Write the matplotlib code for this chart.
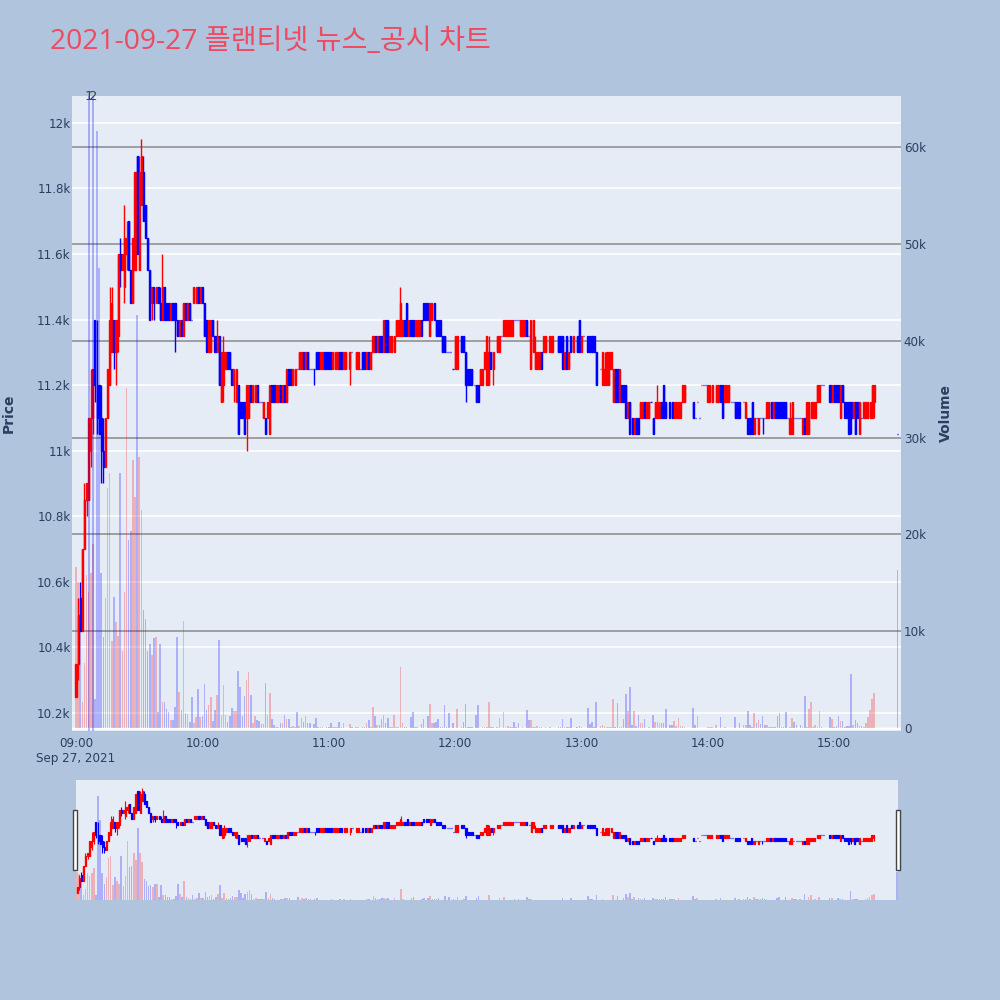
import numpy as np
import matplotlib
matplotlib.use('Agg')
import matplotlib.pyplot as plt
from matplotlib.patches import Rectangle
from matplotlib.ticker import FuncFormatter
from matplotlib.transforms import blended_transform_factory

title = '2021-09-27 플랜티넷 뉴스_공시 차트'

# 1분봉 (index = 09:00 부터 몇 분), 380~389 는 거래 없음, 390 = 15:30 종가 동시호가
N = None
opens = [
    10250, 10350, 10550, 10450, 10700, 10850, 10850, 11000, 11100, 11400,
    11200, 11200, 11100, 11000, 10950, 11100, 11200, 11300, 11400, 11300,
    11350, 11600, 11550, 11500, 11600, 11700, 11550, 11450, 11550, 11900,
    11550, 11750, 11850, 11750, 11650, 11550, 11450, 11500, 11450, 11500,
    11450, 11400, 11500, 11450, 11450, 11400, 11450, 11450, 11400, 11350,
    11400, 11350, 11450, 11400, 11450, 11400, 11450, 11450, 11500, 11450,
    11500, 11450, 11400, 11300, 11300, 11400, 11350, 11300, 11350, 11150,
    11200, 11250, 11300, 11300, 11250, 11200, 11150, 11200, 11150, 11150,
    11150, 11100, 11100, 11200, 11150, 11150, 11200, 11150, 11150, 11100,
    11100, 11100, 11050, 11200, 11200, 11150, 11150, 11200, 11150, 11200,
    11150, 11250, 11250, 11200, 11200, 11250, 11250, 11250, 11300, 11250,
    11300, 11250, 11250, 11250, 11300, 11300, 11250, 11250, 11300, 11300,
    11300, 11300, 11250, 11250, 11250, 11300, 11300, 11250, 11250, N,
    11250, 11300, N, 11250, 11250, 11250, 11300, 11300, 11250, 11300,
    11250, 11300, 11350, 11300, 11350, 11350, 11300, 11400, 11400, 11300,
    11300, 11300, 11350, 11350, 11350, 11350, 11400, 11450, 11350, 11400,
    11400, 11350, 11350, 11350, 11400, 11450, 11450, 11450, 11350, 11400,
    11450, 11400, 11400, 11400, 11350, 11350, 11300, 11300, 11300, 11250,
    11250, 11250, N, 11350, 11350, 11300, 11250, 11250, 11250, 11200,
    11200, 11200, 11200, 11200, 11250, 11200, 11200, 11300, 11250, N,
    11300, 11300, 11350, 11350, 11350, 11350, 11350, 11350, 11400, 11400,
    11400, 11350, 11350, 11350, 11400, 11350, 11250, 11300, 11250, 11250,
    11250, 11300, 11300, 11300, N, 11300, 11300, N, N, 11350,
    11350, 11350, 11250, 11350, 11250, 11350, 11300, N, 11350, 11400,
    11300, 11350, N, 11350, 11350, 11350, 11350, 11300, N, 11250,
    11200, 11200, 11200, 11200, 11250, 11150, 11250, 11250, 11150, 11200,
    11200, 11200, 11100, 11150, 11100, 11050, 11100, 11100, 11100, 11100,
    11150, 11100, 11100, 11150, 11100, 11100, 11100, 11100, 11150, 11200,
    11150, N, 11150, 11150, 11100, 11100, 11100, 11100, 11150, 11150,
    N, N, N, 11150, 11100, 11150, 11100, 11200, 11200, 11200,
    11150, 11150, 11150, N, 11150, 11150, 11200, 11200, 11150, 11150,
    11150, 11150, 11150, 11150, 11150, 11150, N, 11150, 11100, 11100,
    11100, 11150, 11050, 11100, 11050, 11100, 11100, 11100, 11100, 11100,
    11150, 11100, 11150, 11150, 11150, 11150, 11150, 11150, 11100, 11050,
    11050, 11100, 11100, 11100, 11100, 11050, 11100, 11050, 11050, 11100,
    11100, 11100, 11150, 11150, 11200, 11200, N, N, 11200, 11150,
    11200, 11200, 11200, 11100, 11200, 11150, 11150, 11150, 11150, 11100,
    11150, 11150, 11050, 11100, 11100, 11100, 11100, 11100, 11100, 11150,
    N, N, N, N, N, N, N, N, N, N, 11050,
]
highs = [
    10350, 10550, 10600, 10700, 10900, 10900, 11100, 11250, 11250, 11400,
    11400, 11200, 11200, 11100, 11100, 11250, 11500, 11500, 11400, 11400,
    11600, 11650, 11600, 11750, 11700, 11700, 11550, 11650, 11850, 11900,
    11900, 11950, 11900, 11750, 11650, 11550, 11500, 11500, 11500, 11500,
    11500, 11600, 11500, 11450, 11450, 11450, 11450, 11450, 11400, 11400,
    11400, 11450, 11450, 11450, 11450, 11400, 11500, 11500, 11500, 11500,
    11500, 11450, 11400, 11400, 11400, 11400, 11350, 11400, 11350, 11300,
    11350, 11300, 11300, 11300, 11250, 11250, 11250, 11200, 11150, 11150,
    11150, 11200, 11200, 11200, 11200, 11200, 11200, 11150, 11150, 11150,
    11100, 11150, 11200, 11200, 11200, 11200, 11200, 11200, 11200, 11200,
    11250, 11250, 11250, 11250, 11250, 11250, 11300, 11300, 11300, 11300,
    11300, 11250, 11250, 11250, 11300, 11300, 11300, 11300, 11300, 11300,
    11300, 11300, 11300, 11300, 11300, 11300, 11300, 11300, 11300, N,
    11300, 11300, N, 11300, 11300, 11250, 11300, 11300, 11300, 11300,
    11300, 11350, 11350, 11350, 11350, 11350, 11400, 11400, 11400, 11350,
    11350, 11350, 11400, 11400, 11500, 11400, 11400, 11450, 11400, 11400,
    11400, 11400, 11400, 11400, 11400, 11450, 11450, 11450, 11450, 11450,
    11450, 11400, 11400, 11400, 11350, 11350, 11300, 11300, 11300, 11250,
    11350, 11350, N, 11350, 11350, 11300, 11250, 11250, 11250, 11200,
    11200, 11200, 11250, 11250, 11300, 11350, 11350, 11300, 11300, N,
    11350, 11350, 11350, 11400, 11400, 11400, 11400, 11400, 11400, 11400,
    11400, 11400, 11400, 11400, 11400, 11350, 11400, 11400, 11350, 11300,
    11300, 11300, 11350, 11350, N, 11350, 11350, N, N, 11350,
    11350, 11350, 11300, 11350, 11300, 11350, 11350, N, 11350, 11400,
    11350, 11350, N, 11350, 11350, 11350, 11350, 11300, N, 11250,
    11300, 11300, 11300, 11300, 11300, 11250, 11250, 11250, 11250, 11200,
    11200, 11200, 11150, 11150, 11100, 11100, 11100, 11100, 11150, 11150,
    11150, 11150, 11150, 11150, 11100, 11150, 11200, 11150, 11150, 11200,
    11150, N, 11150, 11150, 11150, 11150, 11150, 11150, 11200, 11200,
    N, N, N, 11150, 11100, 11150, 11100, 11200, 11200, 11200,
    11200, 11200, 11200, N, 11200, 11200, 11200, 11200, 11200, 11200,
    11200, 11150, 11150, 11150, 11150, 11150, N, 11150, 11150, 11100,
    11100, 11150, 11100, 11100, 11100, 11100, 11100, 11100, 11150, 11150,
    11150, 11150, 11150, 11150, 11150, 11150, 11150, 11150, 11100, 11150,
    11150, 11100, 11100, 11100, 11100, 11100, 11100, 11150, 11150, 11150,
    11150, 11150, 11200, 11200, 11200, 11200, N, N, 11200, 11200,
    11200, 11200, 11200, 11200, 11200, 11150, 11150, 11150, 11150, 11150,
    11150, 11150, 11150, 11100, 11150, 11150, 11150, 11150, 11200, 11200,
    N, N, N, N, N, N, N, N, N, N, 11050,
]
lows = [
    10250, 10300, 10450, 10450, 10700, 10800, 10850, 10950, 11050, 11150,
    11050, 11050, 10900, 10900, 10950, 11100, 11200, 11300, 11250, 11200,
    11300, 11500, 11550, 11450, 11550, 11550, 11450, 11450, 11550, 11600,
    11550, 11750, 11700, 11650, 11550, 11400, 11400, 11400, 11450, 11450,
    11400, 11400, 11400, 11400, 11400, 11400, 11400, 11300, 11350, 11350,
    11350, 11350, 11400, 11400, 11400, 11400, 11450, 11450, 11450, 11450,
    11450, 11350, 11300, 11300, 11300, 11350, 11300, 11300, 11200, 11150,
    11150, 11250, 11250, 11250, 11200, 11150, 11150, 11050, 11100, 11100,
    11050, 11000, 11100, 11150, 11150, 11150, 11150, 11150, 11150, 11100,
    11050, 11100, 11050, 11150, 11150, 11150, 11150, 11150, 11150, 11150,
    11150, 11200, 11200, 11200, 11200, 11250, 11250, 11250, 11250, 11250,
    11250, 11250, 11250, 11200, 11250, 11250, 11250, 11250, 11250, 11250,
    11250, 11250, 11250, 11250, 11250, 11250, 11250, 11250, 11250, N,
    11200, 11300, N, 11250, 11250, 11250, 11250, 11250, 11250, 11250,
    11250, 11300, 11300, 11300, 11300, 11300, 11300, 11300, 11300, 11300,
    11300, 11300, 11350, 11350, 11350, 11350, 11350, 11350, 11350, 11350,
    11350, 11350, 11350, 11350, 11350, 11400, 11400, 11400, 11350, 11400,
    11400, 11350, 11350, 11350, 11300, 11300, 11300, 11300, 11300, 11250,
    11250, 11250, N, 11300, 11300, 11150, 11200, 11200, 11200, 11200,
    11150, 11150, 11200, 11200, 11250, 11200, 11200, 11250, 11200, N,
    11300, 11300, 11350, 11350, 11350, 11350, 11350, 11350, 11400, 11400,
    11400, 11350, 11350, 11350, 11350, 11350, 11250, 11300, 11250, 11250,
    11250, 11250, 11300, 11300, N, 11300, 11300, N, N, 11300,
    11300, 11250, 11250, 11250, 11250, 11300, 11300, N, 11300, 11300,
    11300, 11350, N, 11300, 11300, 11300, 11300, 11200, N, 11250,
    11200, 11200, 11200, 11200, 11250, 11150, 11150, 11150, 11150, 11150,
    11150, 11100, 11100, 11050, 11050, 11050, 11050, 11050, 11100, 11100,
    11100, 11100, 11100, 11150, 11050, 11100, 11100, 11100, 11100, 11100,
    11100, N, 11100, 11100, 11100, 11100, 11100, 11100, 11150, 11150,
    N, N, N, 11100, 11100, 11150, 11100, 11200, 11200, 11200,
    11150, 11150, 11150, N, 11150, 11150, 11150, 11100, 11150, 11150,
    11150, 11150, 11150, 11100, 11100, 11100, N, 11150, 11100, 11050,
    11050, 11050, 11050, 11100, 11050, 11100, 11050, 11100, 11100, 11100,
    11100, 11100, 11100, 11100, 11100, 11100, 11100, 11100, 11100, 11050,
    11050, 11100, 11100, 11100, 11100, 11050, 11050, 11050, 11050, 11100,
    11100, 11100, 11150, 11150, 11200, 11200, N, N, 11150, 11150,
    11150, 11150, 11150, 11100, 11150, 11100, 11100, 11050, 11050, 11100,
    11050, 11100, 11050, 11100, 11100, 11100, 11100, 11100, 11100, 11100,
    N, N, N, N, N, N, N, N, N, N, 11050,
]
closes = [
    10350, 10500, 10450, 10700, 10850, 10900, 11100, 11100, 11250, 11200,
    11100, 11050, 11000, 10950, 11100, 11250, 11400, 11450, 11300, 11400,
    11600, 11550, 11600, 11650, 11650, 11550, 11450, 11650, 11850, 11600,
    11850, 11900, 11700, 11650, 11550, 11400, 11500, 11450, 11500, 11450,
    11400, 11500, 11400, 11400, 11400, 11450, 11400, 11400, 11350, 11400,
    11350, 11450, 11400, 11450, 11400, 11400, 11500, 11500, 11450, 11500,
    11450, 11350, 11300, 11400, 11400, 11350, 11300, 11350, 11200, 11300,
    11300, 11300, 11250, 11250, 11200, 11250, 11250, 11050, 11100, 11100,
    11050, 11200, 11200, 11150, 11200, 11200, 11150, 11150, 11150, 11150,
    11050, 11150, 11200, 11150, 11150, 11200, 11200, 11150, 11200, 11150,
    11250, 11200, 11200, 11250, 11250, 11250, 11300, 11300, 11250, 11300,
    11250, 11250, 11250, 11250, 11250, 11250, 11300, 11300, 11250, 11250,
    11250, 11250, 11300, 11300, 11300, 11250, 11250, 11300, 11300, N,
    11300, 11300, N, 11300, 11300, 11250, 11250, 11250, 11300, 11250,
    11300, 11350, 11300, 11350, 11300, 11300, 11400, 11300, 11300, 11350,
    11350, 11350, 11400, 11400, 11450, 11400, 11350, 11350, 11400, 11350,
    11350, 11400, 11400, 11400, 11350, 11400, 11400, 11400, 11450, 11450,
    11400, 11350, 11350, 11350, 11300, 11300, 11300, 11300, 11300, 11250,
    11350, 11350, N, 11300, 11300, 11200, 11200, 11200, 11200, 11200,
    11150, 11150, 11250, 11250, 11300, 11350, 11300, 11250, 11300, N,
    11350, 11350, 11350, 11400, 11400, 11400, 11400, 11400, 11400, 11400,
    11400, 11400, 11400, 11400, 11350, 11350, 11400, 11400, 11300, 11300,
    11300, 11250, 11350, 11350, N, 11350, 11350, N, N, 11300,
    11300, 11250, 11300, 11250, 11300, 11300, 11350, N, 11300, 11300,
    11350, 11350, N, 11300, 11300, 11300, 11300, 11200, N, 11250,
    11300, 11250, 11300, 11300, 11300, 11250, 11150, 11150, 11250, 11150,
    11150, 11100, 11150, 11050, 11050, 11100, 11050, 11050, 11150, 11150,
    11100, 11150, 11150, 11150, 11050, 11150, 11150, 11150, 11100, 11100,
    11100, N, 11100, 11100, 11150, 11150, 11150, 11150, 11200, 11200,
    N, N, N, 11100, 11100, 11150, 11100, 11200, 11200, 11200,
    11200, 11200, 11200, N, 11200, 11200, 11150, 11100, 11200, 11200,
    11200, 11150, 11150, 11100, 11100, 11100, N, 11150, 11150, 11050,
    11050, 11050, 11100, 11100, 11100, 11100, 11100, 11100, 11150, 11150,
    11100, 11150, 11100, 11100, 11100, 11100, 11100, 11100, 11100, 11100,
    11150, 11100, 11100, 11100, 11100, 11100, 11050, 11150, 11150, 11150,
    11150, 11150, 11200, 11200, 11200, 11200, N, N, 11150, 11200,
    11150, 11150, 11150, 11200, 11150, 11100, 11100, 11050, 11100, 11150,
    11050, 11100, 11150, 11100, 11150, 11150, 11150, 11150, 11200, 11200,
    N, N, N, N, N, N, N, N, N, N, 11050,
]
volumes = [
    16600, 15100, 10600, 2700, 6700, 15800, 14000, 16000, 19000, 3000,
    61700, 47500, 16000, 9400, 13400, 24800, 26300, 9000, 13500, 11000,
    9500, 26300, 8000, 14000, 35100, 19400, 20400, 27700, 23900, 42700,
    28000, 22500, 12200, 11300, 8000, 8700, 7500, 9300, 9400, 1700,
    8700, 2700, 2700, 2000, 1700, 800, 800, 2200, 9400, 3700,
    1900, 11100, 1500, 1400, 650, 3200, 550, 1100, 4000, 1100,
    1200, 4500, 1900, 2400, 3200, 750, 1900, 3400, 9100, 1300,
    4400, 1300, 600, 1200, 2100, 1750, 1750, 5900, 4200, 1200,
    3300, 5000, 5800, 3400, 500, 1200, 800, 700, 400, 400,
    4700, 1300, 3600, 900, 300, 70, 100, 500, 500, 1300,
    900, 900, 150, 200, 100, 1700, 200, 1000, 650, 1200,
    500, 500, 50, 400, 1000, 100, 100, 100, 50, 60,
    100, 500, 150, 150, 100, 600, 100, 500, 50, 0,
    400, 100, 0, 100, 100, 50, 100, 100, 500, 800,
    70, 2200, 1200, 300, 300, 900, 1300, 500, 1000, 100,
    100, 1300, 100, 100, 6300, 500, 100, 100, 50, 1100,
    1700, 100, 100, 50, 400, 900, 50, 1200, 2500, 500,
    550, 650, 900, 100, 100, 2400, 100, 1500, 50, 500,
    50, 2000, 0, 100, 600, 2500, 100, 100, 100, 50,
    1300, 2400, 50, 100, 100, 100, 2700, 100, 100, 0,
    100, 1000, 50, 1700, 100, 200, 100, 100, 600, 100,
    500, 50, 100, 50, 1900, 800, 800, 100, 100, 200,
    150, 100, 50, 100, 0, 100, 50, 0, 0, 100,
    100, 900, 100, 100, 100, 1000, 50, 0, 100, 200,
    100, 50, 0, 2100, 400, 650, 100, 2700, 0, 200,
    300, 200, 100, 100, 100, 3000, 100, 2600, 100, 100,
    900, 3500, 1800, 4200, 300, 1800, 200, 1300, 500, 500,
    900, 50, 100, 50, 1300, 650, 650, 550, 550, 500,
    2000, 0, 300, 300, 700, 200, 1000, 200, 200, 100,
    0, 0, 0, 2100, 300, 1200, 50, 50, 50, 50,
    100, 100, 100, 0, 300, 50, 1100, 50, 100, 50,
    50, 50, 50, 1100, 50, 500, 0, 300, 300, 1800,
    300, 100, 1500, 500, 800, 400, 1200, 300, 300, 100,
    100, 100, 100, 1200, 1600, 100, 100, 1700, 50, 100,
    1000, 600, 300, 50, 300, 100, 3300, 100, 2000, 2700,
    100, 300, 100, 1800, 100, 50, 0, 0, 1100, 900,
    100, 200, 1200, 700, 700, 100, 200, 200, 5600, 300,
    800, 550, 250, 200, 100, 550, 1100, 1900, 3000, 3600,
    0, 0, 0, 0, 0, 0, 0, 0, 0, 0, 16300,
]

# 뉴스/공시 시각 (09:06, 09:08)
news_minutes = [6, 8]
news_labels = ['1', '2']

tick_minutes = [0, 60, 120, 180, 240, 300, 360]
tick_labels = ['09:00\nSep 27, 2021', '10:00', '11:00', '12:00', '13:00', '14:00', '15:00']

o = np.array(opens, dtype=float)
h = np.array(highs, dtype=float)
l = np.array(lows, dtype=float)
c = np.array(closes, dtype=float)
v = np.array(volumes, dtype=float)
x = np.arange(len(o))

# 상승/하락 (시가==종가면 직전 종가와 비교)
up = np.zeros(len(o), dtype=bool)
prev = np.nan
for i in range(len(o)):
    if np.isnan(o[i]):
        continue
    if c[i] != o[i]:
        up[i] = c[i] > o[i]
    else:
        up[i] = (not np.isnan(prev)) and c[i] > prev
    prev = c[i]

ok = ~np.isnan(o)
cand_col = np.where(up, '#FF0000', '#0000FF')
vol_col = [(1, 0, 0, 0.25) if u else (0, 0, 1, 0.25) for u in up]

BG = '#B0C4DE'
PLOT_BG = '#E5ECF6'
TXT = '#2a3f5f'
PRICE_LIM = (10145, 12082)
VOL_LIM = (-310, 65290)

fig = plt.figure(figsize=(10, 10), dpi=100)
fig.patch.set_facecolor(BG)

rect = [0.072, 0.269, 0.829, 0.635]
ax_g = fig.add_axes(rect)
ax = fig.add_axes(rect, sharex=ax_g)
ax_v = fig.add_axes(rect, sharex=ax_g)
ax_g.set_zorder(0)
ax.set_zorder(1)
ax_v.set_zorder(2)
ax.patch.set_visible(False)
ax_v.patch.set_visible(False)

for a in (ax_g, ax, ax_v):
    for s in a.spines.values():
        s.set_visible(False)

# background + volume grid (right axis)
ax_g.set_facecolor(PLOT_BG)
ax_g.set_ylim(*VOL_LIM)
ax_g.set_yticks(np.arange(0, 60001, 10000))
ax_g.yaxis.set_major_formatter(FuncFormatter(lambda val, p: '0' if val == 0 else f'{val / 1000:g}k'))
ax_g.yaxis.tick_right()
ax_g.tick_params(axis='y', length=0, pad=2, labelsize=8.6, labelcolor=TXT)
ax_g.tick_params(axis='x', length=0, labelbottom=False)
ax_g.grid(axis='y', color='#8a8a8a', linewidth=1.1)
ax_g.axhline(0, color='white', linewidth=2)
ax_g.set_axisbelow(True)

# price
ax.set_ylim(*PRICE_LIM)
ax.set_yticks(np.arange(10200, 12001, 200))
ax.yaxis.set_major_formatter(FuncFormatter(lambda val, p: f'{val / 1000:g}k'))
ax.tick_params(axis='y', length=0, pad=1, labelsize=8.6, labelcolor=TXT)
ax.grid(axis='y', color='white', linewidth=1.1, zorder=0)
ax.set_xlim(-1.9, 391.7)
ax.set_xticks(tick_minutes)
ax.set_xticklabels(tick_labels, linespacing=1.25)
ax.tick_params(axis='x', length=0, pad=4, labelsize=8.6, labelcolor=TXT)

ax.vlines(x[ok], l[ok], h[ok], colors=cand_col[ok], linewidth=1.0, zorder=3)
ax.bar(x[ok], (c - o)[ok], bottom=o[ok], width=0.5, color=cand_col[ok],
       edgecolor=cand_col[ok], linewidth=1.0, zorder=3)

# volume bars on top
ax_v.set_ylim(*VOL_LIM)
ax_v.bar(x, v, width=0.75, color=vol_col, linewidth=0)
ax_v.set_yticks([])
ax_v.tick_params(axis='x', length=0, labelbottom=False)
for m in news_minutes:
    ax_v.axvline(m, color=(0, 0, 1, 0.3), linewidth=1.3)
tr = blended_transform_factory(ax_v.transData, ax_v.transAxes)
for m, t in zip(news_minutes, news_labels):
    ax_v.text(m, 1.0, t, transform=tr, ha='center', va='center', fontsize=9.5,
              color='#444444', clip_on=False)

# titles
fig.text(0.05, 0.958, title, fontsize=20.3, color='#EE4A62', ha='left', va='center',
         family=['Open Sans', 'Noto Sans CJK KR', 'DejaVu Sans'])
fig.text(0.009, 0.587, 'Price', rotation=90, ha='center', va='center',
         fontsize=10, weight='bold', color=TXT)
fig.text(0.946, 0.587, 'Volume', rotation=90, ha='center', va='center',
         fontsize=10, weight='bold', color=TXT)

# range slider
ax_rs = fig.add_axes([0.076, 0.100, 0.822, 0.120])
ax_rs.set_facecolor(PLOT_BG)
for s in ax_rs.spines.values():
    s.set_visible(False)
ax_rs.set_xlim(-0.5, 390.5)
ax_rs.set_ylim(*PRICE_LIM)
ax_rs.set_xticks([])
ax_rs.set_yticks([])
ax_rs.vlines(x[ok], l[ok], h[ok], colors=cand_col[ok], linewidth=0.8)
ax_rs.bar(x[ok], (c - o)[ok], bottom=o[ok], width=0.5, color=cand_col[ok],
          edgecolor=cand_col[ok], linewidth=0.9)
ax_rsv = ax_rs.twinx()
for s in ax_rsv.spines.values():
    s.set_visible(False)
ax_rsv.set_ylim(0, 71000)
ax_rsv.bar(x, v, width=0.75, color=vol_col, linewidth=0)
ax_rsv.set_yticks([])

for hx in (0.073, 0.896):
    fig.patches.append(Rectangle((hx, 0.130), 0.004, 0.060, transform=fig.transFigure,
                                 facecolor='white', edgecolor='#444444', linewidth=1.0,
                                 zorder=10))

fig.savefig('out.png', dpi=100, facecolor=BG)
